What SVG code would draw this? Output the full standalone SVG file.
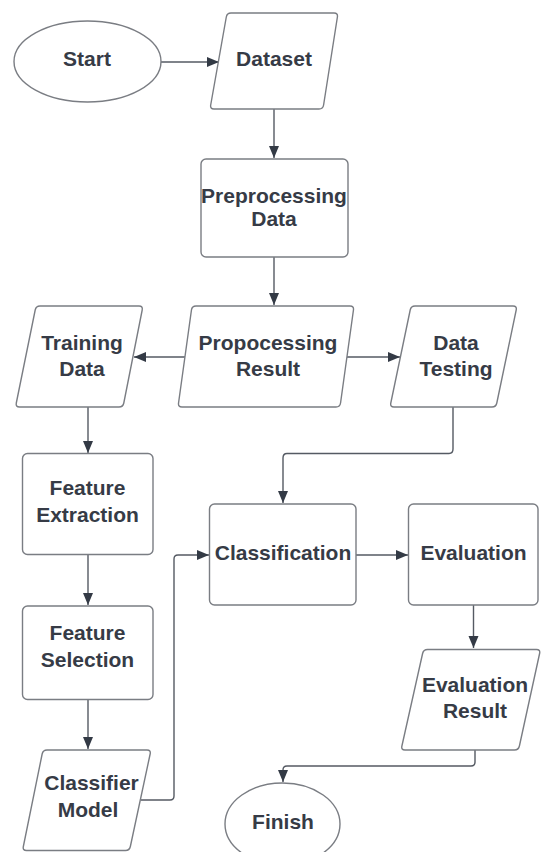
<svg xmlns="http://www.w3.org/2000/svg" width="542" height="852" viewBox="0 0 542 852">
<style>
.shape{fill:#ffffff;stroke:#7a7d83;stroke-width:1.4;stroke-linejoin:round}
.conn{fill:none;stroke:#555a63;stroke-width:1.4}
.lbl{font-family:"Liberation Sans",Arial,sans-serif;font-weight:bold;font-size:21px;fill:#363b46;text-anchor:middle}
</style>
<defs>
<marker id="arr" markerUnits="userSpaceOnUse" markerWidth="12" markerHeight="12" viewBox="0 0 12 12" refX="12" refY="6" orient="auto">
<path d="M0,1 L12,6 L0,11 Z" fill="#333a45"/>
</marker>
</defs>
<rect width="542" height="852" fill="#ffffff"/>
<g id="connectors">
<path class="conn" marker-end="url(#arr)" d="M161,62 H219"/>
<path class="conn" marker-end="url(#arr)" d="M274,109 V158"/>
<path class="conn" marker-end="url(#arr)" d="M274,257 V305"/>
<path class="conn" marker-end="url(#arr)" d="M189,357 H134"/>
<path class="conn" marker-end="url(#arr)" d="M342,357 H400"/>
<path class="conn" marker-end="url(#arr)" d="M88,407 V453"/>
<path class="conn" marker-end="url(#arr)" d="M453,407 V449 Q453,453.5 449,453.5 H287 Q283,453.5 283,458 V503"/>
<path class="conn" marker-end="url(#arr)" d="M88,554.5 V605"/>
<path class="conn" marker-end="url(#arr)" d="M88,699.5 V749"/>
<path class="conn" marker-end="url(#arr)" d="M141,800 H170 Q174,800 174,796 V559 Q174,555 178,555 H209"/>
<path class="conn" marker-end="url(#arr)" d="M356,555 H408"/>
<path class="conn" marker-end="url(#arr)" d="M473.5,605 V648"/>
<path class="conn" marker-end="url(#arr)" d="M475,750 V762 Q475,766 471,766 H287 Q283,766 283,770 V782"/>
</g>
<g id="start">
<ellipse class="shape" cx="87.5" cy="61.5" rx="73.5" ry="40.5"/>
<text class="lbl" x="87" y="65.5">Start</text>
</g>
<g id="dataset">
<path class="shape" d="M231,13 H334 Q338,13 337.4,17 L323.6,105 Q323,109 319,109 H214 Q210,109 210.7,105 L226.3,17 Q227,13 231,13 Z"/>
<text class="lbl" x="274" y="66">Dataset</text>
</g>
<g id="preprocessing">
<rect class="shape" x="201" y="159" width="147" height="98" rx="5"/>
<text class="lbl" x="274" y="202.5">Preprocessing</text>
<text class="lbl" x="274" y="225.5">Data</text>
</g>
<g id="propocessing">
<path class="shape" d="M196,306 H350 Q354,306 353.45,310 L340.55,403 Q340,407 336,407 H182 Q178,407 178.55,403 L191.45,310 Q192,306 196,306 Z"/>
<text class="lbl" x="268" y="349.5">Propocessing</text>
<text class="lbl" x="268" y="375.5">Result</text>
</g>
<g id="training">
<path class="shape" d="M40,306 H139 Q143,306 142.2,310 L123.8,403 Q123,407 119,407 H19.5 Q15.5,407 16.3,403 L35.2,310 Q36,306 40,306 Z"/>
<text class="lbl" x="82" y="349.5">Training</text>
<text class="lbl" x="82" y="375.5">Data</text>
</g>
<g id="testing">
<path class="shape" d="M415,306 H513 Q517,306 516.2,310 L496.8,403 Q496,407 492,407 H394 Q390,407 390.8,403 L410.2,310 Q411,306 415,306 Z"/>
<text class="lbl" x="456" y="349.5">Data</text>
<text class="lbl" x="456" y="375.5">Testing</text>
</g>
<g id="featext">
<rect class="shape" x="22.5" y="453.5" width="130.5" height="101" rx="5"/>
<text class="lbl" x="87.5" y="494.5">Feature</text>
<text class="lbl" x="87.5" y="521.5">Extraction</text>
</g>
<g id="featsel">
<rect class="shape" x="22.5" y="606" width="130.5" height="93.5" rx="5"/>
<text class="lbl" x="87.5" y="639.5">Feature</text>
<text class="lbl" x="87.5" y="666.5">Selection</text>
</g>
<g id="classifier">
<path class="shape" d="M47,750 H147 Q151,750 150.15,754 L130.35,846.5 Q129.5,850.5 125.5,850.5 H26.5 Q22.5,850.5 23.35,846.5 L42.15,754 Q43,750 47,750 Z"/>
<text class="lbl" x="91.5" y="790">Classifier</text>
<text class="lbl" x="88" y="816.5">Model</text>
</g>
<g id="classification">
<rect class="shape" x="209.5" y="504" width="146.5" height="101" rx="5"/>
<text class="lbl" x="283" y="559.5">Classification</text>
</g>
<g id="evaluation">
<rect class="shape" x="408.5" y="504" width="129.5" height="101" rx="5"/>
<text class="lbl" x="473.5" y="559.5">Evaluation</text>
</g>
<g id="evalresult">
<path class="shape" d="M427.5,649.5 H536.5 Q540.5,649.5 539.6,653.5 L519.4,746 Q518.5,750 514.5,750 H405 Q401,750 401.9,746 L422.6,653.5 Q423.5,649.5 427.5,649.5 Z"/>
<text class="lbl" x="475" y="691.5">Evaluation</text>
<text class="lbl" x="475" y="718">Result</text>
</g>
<g id="finish">
<ellipse class="shape" cx="282.5" cy="824" rx="57.5" ry="41"/>
<text class="lbl" x="283" y="828.5">Finish</text>
</g>
</svg>
